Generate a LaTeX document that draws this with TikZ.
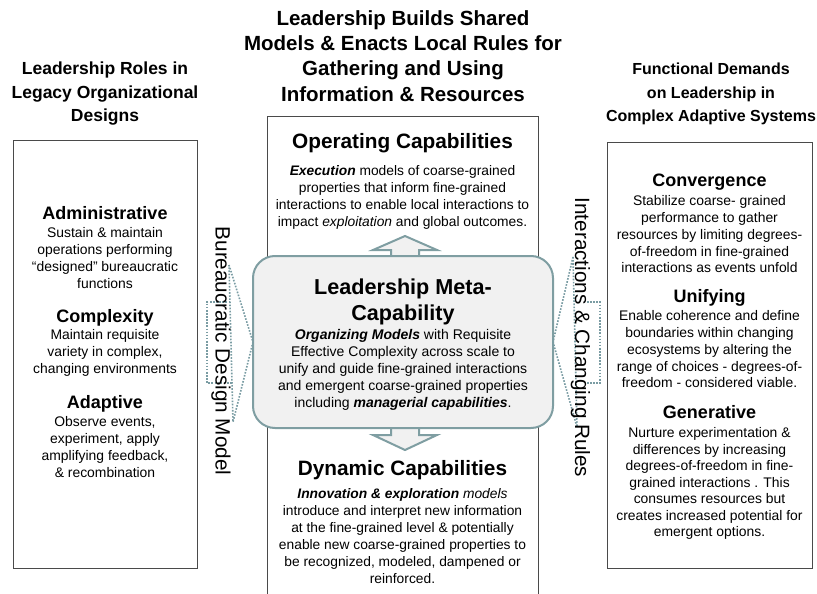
\documentclass[tikz,border=0pt]{standalone}
\usepackage{fontspec}
\setmainfont{Liberation Sans}
\definecolor{boxgray}{HTML}{4A4A4A}
\definecolor{tealgray}{HTML}{7F9EA2}
\definecolor{dotteal}{HTML}{7A9CA3}
\definecolor{metafill}{HTML}{F1F1F1}
\begin{document}
\begin{tikzpicture}[x=1pt,y=-1pt,
  every node/.style={inner sep=0pt,outer sep=0pt},
  frame/.style={draw=boxgray,line width=0.9pt},
  txt/.style={anchor=north,align=center,text=black},
  title/.style={txt,font=\fontsize{20.5}{25.3}\selectfont\bfseries},
  sidetitle/.style={txt,font=\fontsize{17.5}{23.5}\selectfont\bfseries},
  bighead/.style={txt,font=\fontsize{20.8}{25}\selectfont\bfseries},
  metahead/.style={txt,font=\fontsize{21.6}{26}\selectfont\bfseries},
  sechead/.style={txt,font=\fontsize{18}{21}\selectfont\bfseries},
  cbody/.style={txt,font=\fontsize{13.8}{17}\selectfont},
  sbody/.style={txt,font=\fontsize{13.9}{16.7}\selectfont},
  vtext/.style={anchor=center,font=\fontsize{20.7}{24}\selectfont},
  metabox/.style={draw=tealgray,fill=metafill,line width=2pt,rounded corners=22pt},
  blockarrow/.style={draw=tealgray,fill=metafill,line width=2pt,line join=miter},
  dots/.style={draw=dotteal,line width=1.6pt,dash pattern=on 1.6pt off 1.5pt}
]
\useasboundingbox (0,0) rectangle (817,594);

% titles
\node[title] (ctitle) at (403,10.5) {Leadership Builds Shared\\Models \& Enacts Local Rules for\\Gathering and Using\\Information \& Resources};
\node[sidetitle] (ltitle) at (105,62.2) {Leadership Roles in\\Legacy Organizational\\Designs};
\node[sidetitle,font=\fontsize{16}{23.5}\selectfont\bfseries] (rtitle) at (711,63.2) {Functional Demands\\on Leadership in\\Complex Adaptive Systems};

% frames
\node[frame,minimum width=184pt,minimum height=428pt] (lbox) at (105,354) {};
\node[frame,minimum width=205pt,minimum height=426pt] (rbox) at (709.5,355) {};
\draw[frame] (267,600) -- (267,116) -- (538,116) -- (538,600);

% block arrows (drawn below the meta box)
\coordinate (upTip) at (405,236);
\coordinate (dnTip) at (405,450);
\draw[blockarrow] (391,265) -- (391,250) -- (373,250) -- (upTip) -- (437,250) -- (419,250) -- (419,265) -- cycle;
\draw[blockarrow] (391,420) -- (391,435) -- (373,435) -- (dnTip) -- (437,435) -- (419,435) -- (419,420) -- cycle;

% meta box
\node[metabox,minimum width=300pt,minimum height=172pt] (meta) at (403,342) {};

% center texts
\node[bighead] (ophead) at (402.5,133.8) {Operating Capabilities};
\node[cbody] (opbody) at (402.5,165.9) {\textbf{\textit{Execution}} models of coarse-grained\\properties that inform fine-grained\\interactions to enable local interactions to\\impact \textit{exploitation} and global outcomes.};
\node[metahead] (mhead) at (403,279.2) {Leadership Meta-\\Capability};
\node[cbody,font=\fontsize{14}{17}\selectfont] (mbody) at (403,329.8) {\textbf{\textit{Organizing Models}} with Requisite\\Effective Complexity across scale to\\unify and guide fine-grained interactions\\and emergent coarse-grained properties\\including \textbf{\textit{managerial capabilities}}.};
\node[bighead] (dynhead) at (402.5,460.8) {Dynamic Capabilities};
\node[cbody] (dynbody) at (402.5,488.8) {\textbf{\textit{Innovation \& exploration}} \textit{models}\\introduce and interpret new information\\at the fine-grained level \& potentially\\enable new coarse-grained properties to\\be recognized, modeled, dampened or\\reinforced.};

% left box texts
\node[sechead] (adm) at (105,206.4) {Administrative};
\node[sbody] (admb) at (105,227.9) {Sustain \& maintain\\operations performing\\“designed” bureaucratic\\functions};
\node[sechead] (cpx) at (105,309.4) {Complexity};
\node[sbody] (cpxb) at (105,329.9) {Maintain requisite\\variety in complex,\\changing environments};
\node[sechead] (adp) at (105,395.4) {Adaptive};
\node[sbody] (adpb) at (105,416.9) {Observe events,\\experiment, apply\\amplifying feedback,\\\& recombination};

% right box texts
\node[sechead] (cnv) at (709.5,174.4) {Convergence};
\node[sbody] (cnvb) at (709.5,195.9) {Stabilize coarse- grained\\performance to gather\\resources by limiting degrees-\\of-freedom in fine-grained\\interactions as events unfold};
\node[sechead] (uni) at (709.5,289.4) {Unifying};
\node[sbody] (unib) at (709.5,310.9) {Enable coherence and define\\boundaries within changing\\ecosystems by altering the\\range of choices - degrees-of-\\freedom - considered viable.};
\node[sechead] (gen) at (709.5,405.4) {Generative};
\node[txt,font=\fontsize{13.9}{16.5}\selectfont] (genb) at (709.5,427.9) {Nurture experimentation \&\\differences by increasing\\degrees-of-freedom in fine-\\grained interactions . This\\consumes resources but\\creates increased potential for\\emergent options.};

% dotted connectors, left
\coordinate (lt1) at (229,265);
\coordinate (lt2) at (233,422);
\coordinate (lb1) at (230.1,302);
\coordinate (lb2) at (232.1,383);
\draw[dots] (lt1) -- (meta.west) -- (lt2) -- cycle;
\draw[dots] (lb1) -- (207,302) -- (207,383) -- (lb2);

% dotted connectors, right
\coordinate (rt1) at (573,257);
\coordinate (rt2) at (577,427);
\coordinate (rb1) at (587,302);
\coordinate (rb2) at (587,383);
\draw[dots] (rt1) -- (meta.east) -- (rt2) -- cycle;
\draw[dots] (rb1) -- (600,302) -- (600,383) -- (rb2);

% vertical labels
\node[vtext,rotate=-90] (bdm) at (221,351) {Bureaucratic Design Model};
\node[vtext,rotate=-90] (icr) at (580.5,337.5) {Interactions \& Changing Rules};
\end{tikzpicture}
\end{document}
